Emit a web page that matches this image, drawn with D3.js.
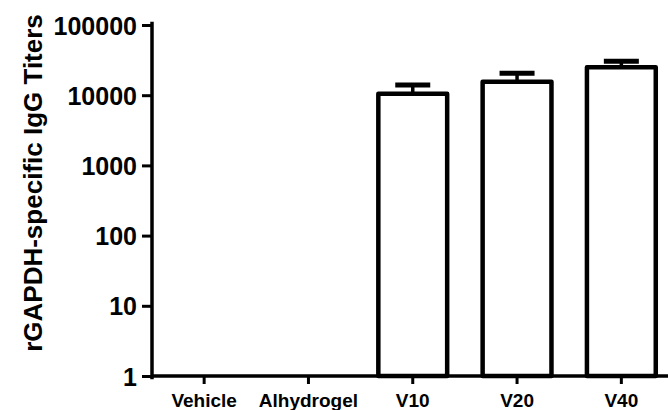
<!DOCTYPE html>
<html>
<head>
<meta charset="utf-8">
<script src="https://cdn.jsdelivr.net/npm/d3@7"></script>
<style>
  html, body { margin: 0; padding: 0; background: #fff; }
  svg { display: block; }
  text { font-family: "Liberation Sans", Arial, Helvetica, sans-serif; font-weight: bold; fill: #000; }
</style>
</head>
<body>
<svg id="chart" width="668" height="410"></svg>
<script>
const categories = ["Vehicle", "Alhydrogel", "V10", "V20", "V40"];
const titers = [null, null, 10500, 15500, 25000];
const errors = [null, null, 3500, 5000, 5500];
const yTicks = [1, 10, 100, 1000, 10000, 100000];
const yTitle = "rGAPDH-specific IgG Titers";

const svg = d3.select("#chart");
const x0 = 152, yBase = 376, yTop = 25;

const x = d3.scaleBand().domain(categories).range([x0, 673.5]).paddingInner(0.34).paddingOuter(0.17);
const y = d3.scaleLog().domain([1, 100000]).range([yBase, yTop]);

// bars
const data = categories.map((c, i) => ({ c, v: titers[i], e: errors[i] })).filter(d => d.v != null);

const g = svg.append("g");
g.selectAll("rect.bar").data(data).join("rect")
  .attr("class", "bar")
  .attr("x", d => x(d.c))
  .attr("y", d => y(d.v))
  .attr("width", x.bandwidth())
  .attr("height", d => y(1) - y(d.v))
  .attr("fill", "#fff")
  .attr("stroke", "#000")
  .attr("stroke-width", 4.5)
  .attr("stroke-linejoin", "round");

// error bars
g.selectAll("line.stem").data(data).join("line")
  .attr("x1", d => x(d.c) + x.bandwidth() / 2)
  .attr("x2", d => x(d.c) + x.bandwidth() / 2)
  .attr("y1", d => y(d.v))
  .attr("y2", d => y(d.v + d.e))
  .attr("stroke", "#000").attr("stroke-width", 3.5);
g.selectAll("line.cap").data(data).join("line")
  .attr("x1", d => x(d.c) + x.bandwidth() / 2 - 17.5)
  .attr("x2", d => x(d.c) + x.bandwidth() / 2 + 17.5)
  .attr("y1", d => y(d.v + d.e))
  .attr("y2", d => y(d.v + d.e))
  .attr("stroke", "#000").attr("stroke-width", 5);

// y axis
const yAxis = d3.axisLeft(y).tickValues(yTicks).tickFormat(d3.format("d")).tickSize(10).tickPadding(5);
const ya = svg.append("g").attr("transform", `translate(${x0},0)`).call(yAxis);
ya.select(".domain").attr("d", `M0,${yTop - 1.5}V${yBase + 1.5}`).attr("stroke-width", 3.5).attr("stroke-linecap", "square");
ya.selectAll(".tick line").attr("stroke-width", 3);
ya.selectAll(".tick text").attr("font-size", 25).attr("font-family", null).attr("fill", "#000").attr("dy", "0.36em");
ya.attr("font-family", null);

// x axis
const xAxis = d3.axisBottom(x).tickSize(8).tickPadding(10);
const xa = svg.append("g").attr("transform", `translate(0,${yBase})`).call(xAxis);
xa.select(".domain").attr("d", `M${x0},0H668`).attr("stroke-width", 3.5);
xa.selectAll(".tick line").attr("stroke-width", 3);
xa.selectAll(".tick text").attr("font-size", 19).attr("fill", "#000");
xa.attr("font-family", null);

// y title
svg.append("text")
  .attr("transform", `translate(42,183) rotate(-90)`)
  .attr("text-anchor", "middle")
  .attr("font-size", 26)
  .text(yTitle);
</script>
</body>
</html>
